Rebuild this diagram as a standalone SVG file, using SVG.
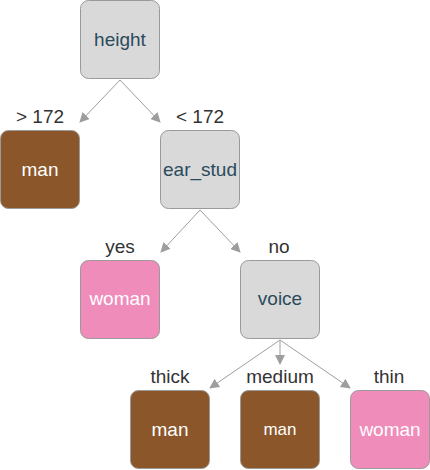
<svg xmlns="http://www.w3.org/2000/svg" width="430" height="470" viewBox="0 0 430 470">
<style>
.box{stroke:#9a9a9a;stroke-width:1}
.q{fill:#d9d9d9}
.m{fill:#8b572a}
.w{fill:#f08cba}
.t{font-family:"Liberation Sans",Arial,sans-serif;font-size:19px;text-anchor:middle}
.tq{fill:#2a4b5c}
.tw{fill:#ffffff}
.lbl{font-family:"Liberation Sans",Arial,sans-serif;font-size:19px;text-anchor:middle;fill:#333333}
.c{stroke:#9e9e9e;stroke-width:1;fill:none;marker-end:url(#ah)}
</style>
<defs>
<marker id="ah" viewBox="0 0 10 10" refX="9" refY="5" markerWidth="10" markerHeight="10" markerUnits="userSpaceOnUse" orient="auto">
<path d="M0,0 L10,5 L0,10 z" fill="#9e9e9e"/>
</marker>
</defs>
<g id="connectors">
<line class="c" x1="120" y1="80" x2="80" y2="122"/>
<line class="c" x1="120" y1="80" x2="160" y2="122"/>
<line class="c" x1="200" y1="210" x2="161" y2="252"/>
<line class="c" x1="200" y1="210" x2="240" y2="252"/>
<line class="c" x1="280" y1="340" x2="210" y2="388"/>
<line class="c" x1="280" y1="340" x2="280" y2="364"/>
<line class="c" x1="280" y1="340" x2="350" y2="388"/>
</g>
<g id="labels">
<text class="lbl" x="40" y="123">&gt; 172</text>
<text class="lbl" x="200" y="123">&lt; 172</text>
<text class="lbl" x="120" y="253">yes</text>
<text class="lbl" x="279" y="253">no</text>
<text class="lbl" x="170" y="383">thick</text>
<text class="lbl" x="280" y="383">medium</text>
<text class="lbl" x="389" y="383">thin</text>
</g>
<g id="node-height"><rect class="box q" x="80.5" y="0.5" width="79" height="78" rx="8"/><text class="t tq" x="120" y="46">height</text></g>
<g id="node-man1"><rect class="box m" x="0.5" y="130.5" width="79" height="78" rx="8"/><text class="t tw" x="40" y="176">man</text></g>
<g id="node-ear_stud"><rect class="box q" x="160.5" y="130.5" width="79" height="78" rx="8"/><text class="t tq" x="200" y="176">ear_stud</text></g>
<g id="node-woman1"><rect class="box w" x="80.5" y="260.5" width="79" height="78" rx="8"/><text class="t tw" x="120" y="305">woman</text></g>
<g id="node-voice"><rect class="box q" x="240.5" y="260.5" width="79" height="78" rx="8"/><text class="t tq" x="280" y="305">voice</text></g>
<g id="node-man2"><rect class="box m" x="130.5" y="390.5" width="79" height="78" rx="8"/><text class="t tw" x="170" y="436">man</text></g>
<g id="node-man3"><rect class="box m" x="240.5" y="390.5" width="79" height="78" rx="8"/><text class="t tw" x="280" y="435" style="font-size:17px">man</text></g>
<g id="node-woman2"><rect class="box w" x="350.5" y="390.5" width="79" height="78" rx="8"/><text class="t tw" x="390" y="436">woman</text></g>
</svg>
